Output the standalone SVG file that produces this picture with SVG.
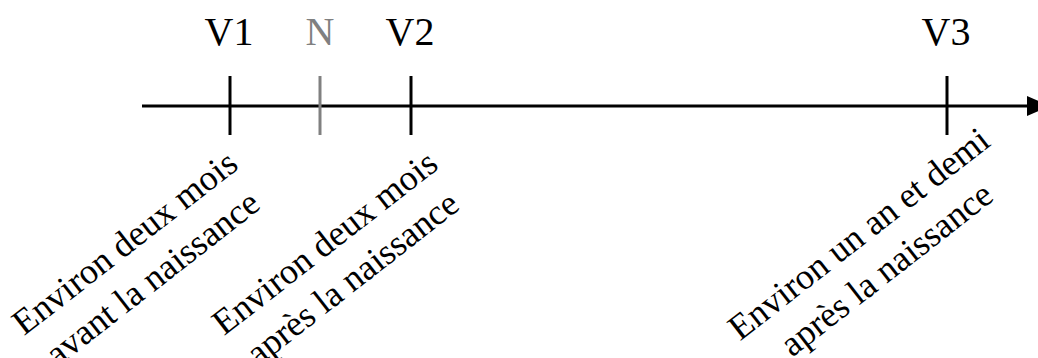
<svg xmlns="http://www.w3.org/2000/svg" width="1038" height="358" viewBox="0 0 1038 358">
<style>
.lbl{font-family:"Liberation Serif","Times New Roman",serif;font-size:40px;fill:#000;text-anchor:middle}
.rot{font-family:"Liberation Serif","Times New Roman",serif;font-size:36px;fill:#000;text-anchor:middle}
.tick{stroke:#000;stroke-width:3;fill:none}
</style>
<rect width="1038" height="358" fill="#fff"/>
<g id="connectors">
<line x1="142" y1="106" x2="1030" y2="106" stroke="#000" stroke-width="3"/>
<polygon points="1027,96 1027,116 1050,106" fill="#000"/>
</g>
<g id="V1">
<line class="tick" x1="230" y1="76" x2="230" y2="135"/>
<text class="lbl" x="229" y="45">V1</text>
<g transform="translate(132,252) rotate(-38)">
<text class="rot" x="0" y="0">Environ deux mois</text>
<text class="rot" x="0" y="45">avant la naissance</text>
</g>
</g>
<g id="N">
<line x1="320" y1="76" x2="320" y2="135" stroke="#808080" stroke-width="3"/>
<text class="lbl" x="320" y="45" style="fill:#808080">N</text>
</g>
<g id="V2">
<line class="tick" x1="411" y1="76" x2="411" y2="135"/>
<text class="lbl" x="410" y="45">V2</text>
<g transform="translate(332,252) rotate(-38)">
<text class="rot" x="0" y="0">Environ deux mois</text>
<text class="rot" x="0" y="45">après la naissance</text>
</g>
</g>
<g id="V3">
<line class="tick" x1="947" y1="76" x2="947" y2="135"/>
<text class="lbl" x="946" y="45">V3</text>
<g transform="translate(866,243) rotate(-38)">
<text class="rot" x="0" y="0">Environ un an et demi</text>
<text class="rot" x="0" y="45">après la naissance</text>
</g>
</g>
</svg>
